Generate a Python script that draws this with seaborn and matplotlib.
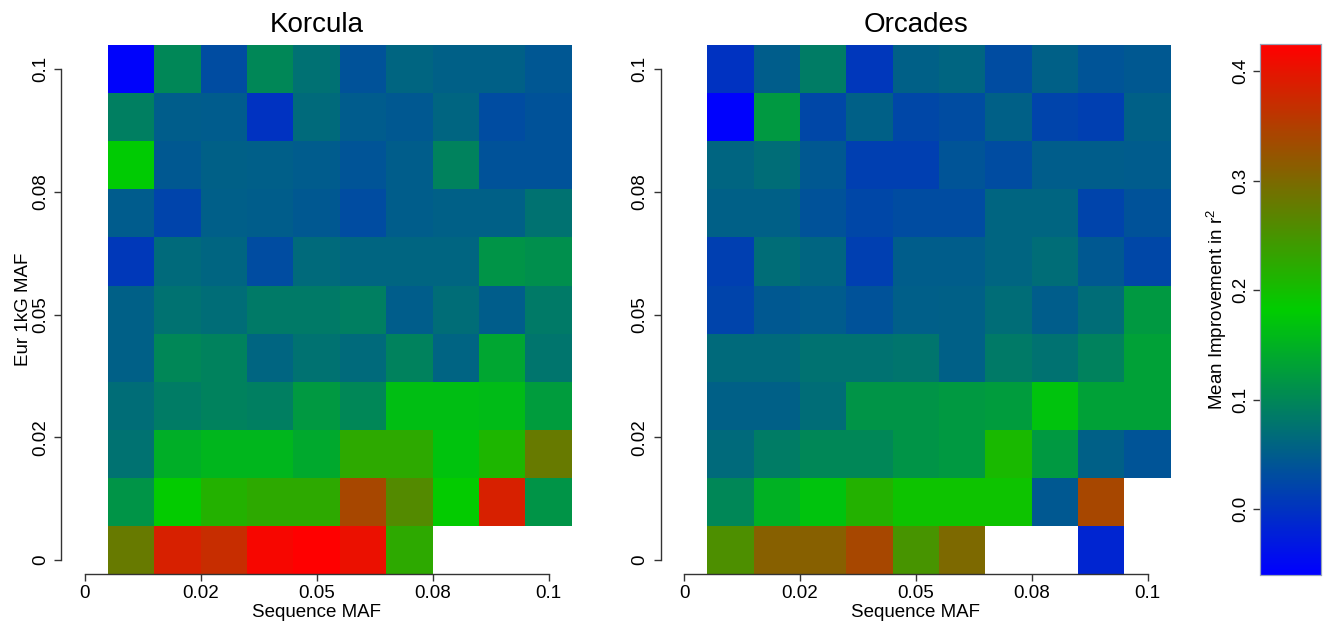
import numpy as np
import pandas as pd
import matplotlib
matplotlib.use("Agg")
import matplotlib.pyplot as plt
import seaborn as sns
from matplotlib.colors import LinearSegmentedColormap

# ---------------- data ----------------
seq_maf = [0.01, 0.02, 0.03, 0.04, 0.05, 0.06, 0.07, 0.08, 0.09, 0.10]
eur_maf = [0.10, 0.09, 0.08, 0.07, 0.06, 0.05, 0.04, 0.03, 0.02, 0.01, 0.00]  # top -> bottom
nan = np.nan

korcula = [
    [-0.055, 0.100, 0.030, 0.100, 0.073, 0.037, 0.060, 0.055, 0.055, 0.043],
    [0.090, 0.050, 0.048, 0.000, 0.065, 0.048, 0.045, 0.060, 0.030, 0.037],
    [0.180, 0.045, 0.055, 0.052, 0.048, 0.040, 0.050, 0.095, 0.037, 0.037],
    [0.048, 0.020, 0.052, 0.050, 0.045, 0.030, 0.050, 0.055, 0.055, 0.075],
    [0.008, 0.065, 0.060, 0.030, 0.065, 0.060, 0.060, 0.060, 0.115, 0.110],
    [0.055, 0.075, 0.070, 0.085, 0.085, 0.090, 0.050, 0.070, 0.050, 0.085],
    [0.055, 0.100, 0.095, 0.060, 0.075, 0.065, 0.095, 0.058, 0.135, 0.080],
    [0.070, 0.087, 0.095, 0.090, 0.120, 0.100, 0.165, 0.165, 0.160, 0.125],
    [0.075, 0.145, 0.155, 0.155, 0.140, 0.225, 0.225, 0.170, 0.210, 0.280],
    [0.115, 0.185, 0.215, 0.225, 0.225, 0.340, 0.260, 0.185, 0.385, 0.115],
    [0.280, 0.385, 0.370, 0.415, 0.425, 0.405, 0.225, nan, nan, nan],
]

orcades = [
    [0.000, 0.050, 0.087, 0.005, 0.055, 0.060, 0.030, 0.055, 0.040, 0.045],
    [-0.058, 0.120, 0.025, 0.055, 0.025, 0.030, 0.055, 0.020, 0.015, 0.055],
    [0.060, 0.070, 0.045, 0.015, 0.015, 0.040, 0.030, 0.050, 0.050, 0.048],
    [0.055, 0.055, 0.037, 0.025, 0.030, 0.030, 0.060, 0.060, 0.020, 0.037],
    [0.015, 0.070, 0.060, 0.015, 0.050, 0.050, 0.060, 0.070, 0.045, 0.025],
    [0.020, 0.045, 0.048, 0.037, 0.052, 0.055, 0.070, 0.050, 0.070, 0.120],
    [0.065, 0.065, 0.075, 0.075, 0.080, 0.055, 0.085, 0.075, 0.095, 0.130],
    [0.055, 0.055, 0.070, 0.115, 0.115, 0.120, 0.125, 0.170, 0.130, 0.130],
    [0.065, 0.087, 0.100, 0.100, 0.115, 0.120, 0.205, 0.120, 0.055, 0.040],
    [0.100, 0.150, 0.170, 0.215, 0.195, 0.195, 0.195, 0.045, 0.340, nan],
    [0.255, 0.310, 0.310, 0.340, 0.250, 0.300, nan, nan, -0.015, nan],
]

panel_titles = ["Korcula", "Orcades"]
x_tick_values = [0.0, 0.025, 0.05, 0.075, 0.1]
x_tick_labels = ["0", "0.02", "0.05", "0.08", "0.1"]
y_tick_values = [0.0, 0.025, 0.05, 0.075, 0.1]
y_tick_labels = ["0", "0.02", "0.05", "0.08", "0.1"]
cbar_ticks = [0.0, 0.1, 0.2, 0.3, 0.4]
cbar_tick_labels = ["0.0", "0.1", "0.2", "0.3", "0.4"]

VMIN, VMAX = -0.06, 0.4244
cmap = LinearSegmentedColormap.from_list("bgr", ["#0000FF", "#00CD00", "#FF0000"], N=256)

# ---------------- style ----------------
sns.set_style("white")
plt.rcParams["font.family"] = ["Liberation Sans", "DejaVu Sans"]
plt.rcParams["text.color"] = "black"
plt.rcParams["axes.labelcolor"] = "black"
plt.rcParams["xtick.color"] = "black"
plt.rcParams["ytick.color"] = "black"

W, H = 1325, 621
fig = plt.figure(figsize=(W / 100, H / 100), dpi=100)


def px_axes(l, t, r, b):
    return fig.add_axes([l / W, 1 - b / H, (r - l) / W, (b - t) / H])


AX_COL = "#333333"
FS_TICK = 13.5
FS_LAB = 13.5

# mapping of axis values to heatmap cell coordinates
def xpos(v):
    return (v - 0.005) / 0.01


Y_TOP, Y_BOT = 0.505, 10.70  # cell coordinate of tick 0.1 and tick 0


def ypos(v):
    return Y_TOP + (0.1 - v) / 0.1 * (Y_BOT - Y_TOP)


cell_w = 46.4
panels = [(107.7, 45.0, 571.7, 574.3), (707.3, 45.0, 1170.7, 574.3)]

cax = px_axes(1260, 44.3, 1321, 575)

for i, (data, title, (l, t, r, b)) in enumerate(zip([korcula, orcades], panel_titles, panels)):
    df = pd.DataFrame(data, index=eur_maf, columns=seq_maf)
    ax = px_axes(l - cell_w, t, r, b)
    sns.heatmap(df, ax=ax, cmap=cmap, vmin=VMIN, vmax=VMAX,
                cbar=(i == 1), cbar_ax=cax if i == 1 else None,
                cbar_kws={"ticks": cbar_ticks} if i == 1 else None)
    ax.set_xlim(-1, 10)
    ax.set_ylim(11, 0)
    ax.set_xticks([xpos(v) for v in x_tick_values])
    ax.set_xticklabels(x_tick_labels, rotation=0, fontsize=FS_TICK)
    ax.set_yticks([ypos(v) for v in y_tick_values])
    ax.set_yticklabels(y_tick_labels, rotation=90, va="center", fontsize=FS_TICK)
    ax.tick_params(axis="x", bottom=True, direction="out", length=5, width=1,
                   color=AX_COL, labelcolor="black", pad=2.5)
    ax.tick_params(axis="y", left=True, direction="out", length=5, width=1,
                   color=AX_COL, labelcolor="black", pad=4)
    for s in ["top", "right"]:
        ax.spines[s].set_visible(False)
    for s in ["bottom", "left"]:
        ax.spines[s].set_visible(True)
        ax.spines[s].set_color(AX_COL)
        ax.spines[s].set_linewidth(1)
    ax.spines["bottom"].set_bounds(xpos(0.0), xpos(0.1))
    ax.spines["left"].set_bounds(ypos(0.0), ypos(0.1))
    ax.set_xlabel("Sequence MAF", fontsize=FS_LAB, labelpad=2, color="black")
    ax.set_ylabel("Eur 1kG MAF" if i == 0 else "", fontsize=FS_LAB, labelpad=-0.5,
                  color="black")
    ax.set_title(title, fontsize=20, pad=9.5, color="black")

# colorbar
cax.yaxis.set_ticks_position("left")
cax.yaxis.set_label_position("left")
cax.set_yticks(cbar_ticks)
cax.set_yticklabels(cbar_tick_labels, rotation=90, va="center", fontsize=FS_TICK)
cax.tick_params(axis="y", left=True, right=False, direction="out", length=5,
                width=1, color=AX_COL, labelcolor="black", pad=3)
cax.set_ylabel("Mean Improvement in $\\mathregular{r^2}$", fontsize=FS_LAB, labelpad=2,
               color="black")
for sp in cax.spines.values():
    sp.set_visible(True)
    sp.set_color("#98a4b8")
    sp.set_linewidth(0.8)

fig.savefig("out.png", dpi=100, facecolor="white")
